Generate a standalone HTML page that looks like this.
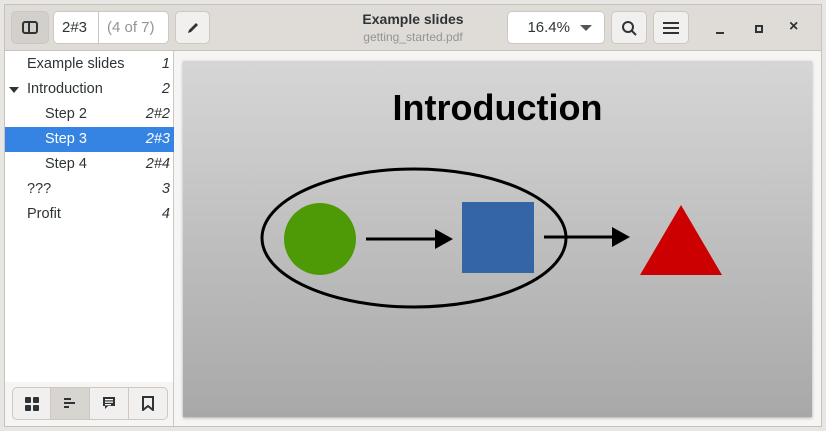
<!DOCTYPE html>
<html><head><meta charset="utf-8"><style>
*{box-sizing:border-box;margin:0;padding:0}
body{width:826px;height:431px;background:#e8e6e3;font-family:"Liberation Sans","DejaVu Sans",sans-serif;overflow:hidden;position:relative}
.win{position:absolute;left:4px;top:4px;width:818px;height:423px;border:1px solid #c6c2bd;background:#f6f5f4;overflow:hidden}
.hdr{position:absolute;left:0;top:0;width:816px;height:46px;background:#dfdcd8;border-bottom:1px solid #c6c2bd}
.btn{position:absolute;top:6px;height:33px;border:1px solid #cdc7c2;border-radius:5px;background:#f1f0ee;display:flex;align-items:center;justify-content:center}
.entry{position:absolute;top:6px;height:33px;border:1px solid #cdc7c2;border-radius:5px;background:#fff;font-size:15px;display:flex;align-items:center}
.side{position:absolute;left:0;top:46px;width:169px;height:331px;background:#fff;border-right:1px solid #cdc7c2}
.row{position:absolute;left:0;width:169px;height:25px;font-size:14.5px;line-height:25px;color:#2e3436}
.row .n{position:absolute;right:4px;font-style:italic}
.row.sel{background:#3584e4;color:#fff}
.sbot{position:absolute;left:0;top:377px;width:169px;height:46px;background:#f6f5f4;border-right:1px solid #cdc7c2}
.seg{position:absolute;top:5px;height:33px;display:flex;align-items:center;justify-content:center;background:#f1f0ee;border:1px solid #cdc7c2}
.page{position:absolute;left:178px;top:56px;width:629px;height:356px;background:linear-gradient(#d6d6d6,#a8a8a8);box-shadow:0 1px 3px rgba(0,0,0,.3)}
</style></head><body>
<div class="win">
<div class="hdr">
 <div class="btn" style="left:6px;width:38px;background:#d3cfca"><div style="width:16px;height:13px;border:2px solid #2e3436;border-radius:3px;position:relative"><div style="position:absolute;left:4px;top:0;width:2px;height:9px;background:#2e3436"></div></div></div>
 <div class="entry" style="left:48px;width:116px"><span style="padding-left:8px;width:44px;color:#2e3436">2#3</span><span style="border-left:1px solid #cdc7c2;height:31px;line-height:31px;padding-left:8px;color:#929595">(4 of 7)</span></div>
 <div class="btn" style="left:170px;width:35px"><svg width="14" height="14"><path d="M2 12L3 9L10 2L12 4L5 11Z" fill="#2e3436"/></svg></div>
 <div style="position:absolute;left:300px;width:216px;top:6px;text-align:center;font-size:14px;font-weight:bold;color:#2e3436">Example slides</div>
 <div style="position:absolute;left:300px;width:216px;top:25px;text-align:center;font-size:12px;color:#929595">getting_started.pdf</div>
 <div class="entry" style="left:502px;width:98px;justify-content:flex-end;padding-right:12px;color:#2e3436">16.4%<span style="margin-left:10px;width:0;height:0;border-left:6px solid transparent;border-right:6px solid transparent;border-top:6px solid #555"></span></div>
 <div class="btn" style="left:606px;width:36px"><svg width="16" height="16"><circle cx="7" cy="7" r="5" fill="none" stroke="#2e3436" stroke-width="2"/><line x1="11" y1="11" x2="15" y2="15" stroke="#2e3436" stroke-width="2"/></svg></div>
 <div class="btn" style="left:648px;width:36px"><svg width="16" height="14"><rect y="1" width="16" height="2" fill="#2e3436"/><rect y="6" width="16" height="2" fill="#2e3436"/><rect y="11" width="16" height="2" fill="#2e3436"/></svg></div>
 <div style="position:absolute;left:711px;top:27px;width:8px;height:2px;background:#2e3436"></div>
 <div style="position:absolute;left:750px;top:20px;width:8px;height:8px;border:2px solid #2e3436"></div>
 <div style="position:absolute;left:784px;top:13px;font-size:16px;font-weight:bold;color:#2e3436">×</div>
</div>
<div class="side">
 <div class="row" style="top:1px"><span style="padding-left:22px">Example slides</span><span class="n">1</span></div>
 <div class="row" style="top:26px"><span style="position:absolute;left:4px;top:10px;border-left:5px solid transparent;border-right:5px solid transparent;border-top:6px solid #2e3436"></span><span style="padding-left:22px">Introduction</span><span class="n">2</span></div>
 <div class="row" style="top:51px"><span style="padding-left:40px">Step 2</span><span class="n">2#2</span></div>
 <div class="row sel" style="top:76px"><span style="padding-left:40px">Step 3</span><span class="n">2#3</span></div>
 <div class="row" style="top:101px"><span style="padding-left:40px">Step 4</span><span class="n">2#4</span></div>
 <div class="row" style="top:126px"><span style="padding-left:22px">???</span><span class="n">3</span></div>
 <div class="row" style="top:151px"><span style="padding-left:22px">Profit</span><span class="n">4</span></div>
</div>
<div class="sbot">
 <div class="seg" style="left:7px;width:39px;border-radius:5px 0 0 5px"><svg width="14" height="14"><rect width="6" height="6" rx="1" fill="#2e3436"/><rect x="8" width="6" height="6" rx="1" fill="#2e3436"/><rect y="8" width="6" height="6" rx="1" fill="#2e3436"/><rect x="8" y="8" width="6" height="6" rx="1" fill="#2e3436"/></svg></div>
 <div class="seg" style="left:45px;width:40px;background:#d8d4d0"><svg width="12" height="11"><rect width="7" height="2" fill="#2e3436"/><rect y="4" width="11" height="2" fill="#2e3436"/><rect y="8" width="5" height="2" fill="#2e3436"/></svg></div>
 <div class="seg" style="left:84px;width:40px"><svg width="14" height="15"><path d="M1 1h12v9H6l-3 3v-3H1z" fill="#2e3436"/><rect x="3" y="3" width="8" height="1.3" fill="#fff"/><rect x="3" y="5.5" width="8" height="1.3" fill="#fff"/><rect x="3" y="8" width="6" height="1.3" fill="#fff"/></svg></div>
 <div class="seg" style="left:123px;width:40px;border-radius:0 5px 5px 0"><svg width="12" height="15"><path d="M1 1h10v13l-5-4-5 4z" fill="none" stroke="#2e3436" stroke-width="2"/></svg></div>
</div>
<div class="page">
 <div style="position:absolute;left:0;width:629px;top:26px;text-align:center;font-family:'Liberation Sans',sans-serif;font-weight:bold;font-size:36px;color:#000">Introduction</div>
 <svg width="629" height="356" style="position:absolute;left:0;top:0">
  <ellipse cx="231" cy="177" rx="152" ry="69" fill="none" stroke="#000" stroke-width="3"/>
  <circle cx="137" cy="178" r="36" fill="#4e9a06"/>
  <line x1="183" y1="178" x2="255" y2="178" stroke="#000" stroke-width="3"/><path d="M252 168L270 178L252 188z" fill="#000"/>
  <rect x="279" y="141" width="72" height="71" fill="#3465a4"/>
  <line x1="361" y1="176" x2="432" y2="176" stroke="#000" stroke-width="3"/><path d="M429 166L447 176L429 186z" fill="#000"/>
  <path d="M498 144L539 214H457z" fill="#cc0000"/>
 </svg>
</div>
</div>
</body></html>
